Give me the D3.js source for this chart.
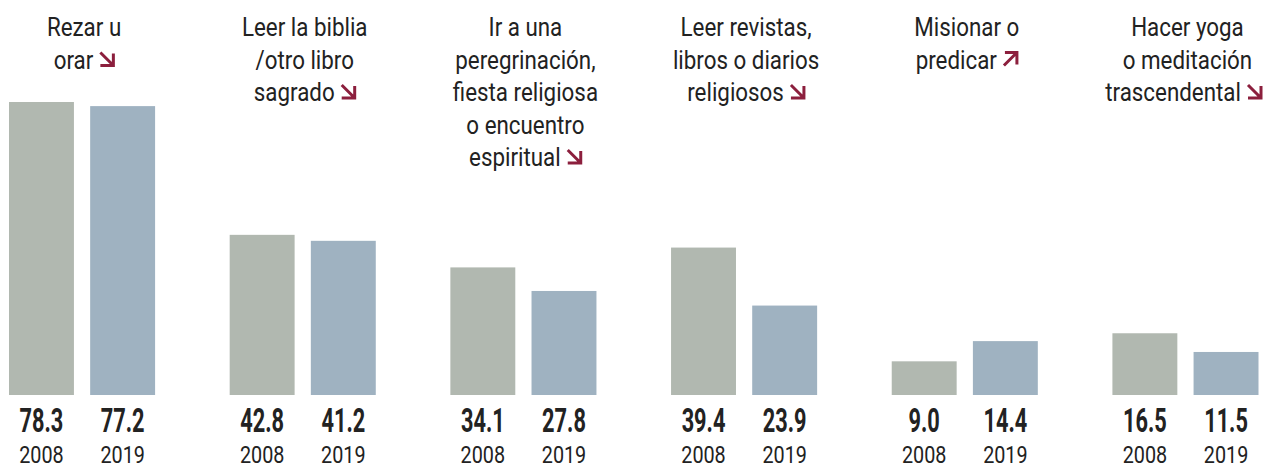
<!DOCTYPE html>
<html>
<head>
<meta charset="utf-8">
<script src="https://cdn.jsdelivr.net/npm/d3@7"></script>
<style>
  body { margin: 0; background: #fff; }
  svg { display: block; }
</style>
</head>
<body>
<svg class="chart" width="1266" height="468"></svg>
<script>
const categories = [
    "Rezar u orar",
    "Leer la biblia /otro libro sagrado",
    "Ir a una peregrinación, fiesta religiosa o encuentro espiritual",
    "Leer revistas, libros o diarios religiosos",
    "Misionar o predicar",
    "Hacer yoga o meditación trascendental"
];
const titleLines = [
    ["Rezar u", "orar"],
    ["Leer la biblia", "/otro libro", "sagrado"],
    ["Ir a una", "peregrinación,", "fiesta religiosa", "o encuentro", "espiritual"],
    ["Leer revistas,", "libros o diarios", "religiosos"],
    ["Misionar o", "predicar"],
    ["Hacer yoga", "o meditación", "trascendental"]
];
const trend = ["down", "down", "down", "down", "up", "down"];
const years = ["2008", "2019"];
const values2008 = [78.3, 42.8, 34.1, 39.4, 9.0, 16.5];
const values2019 = [77.2, 41.2, 27.8, 23.9, 14.4, 11.5];

const colors = { "2008": "#b1b8b0", "2019": "#9fb2c1" };
const arrowColor = "#8c1f3d";
const textColor = "#222222";

const svg = d3.select(".chart");

const data = categories.map((c, i) => ({
    cat: c,
    lines: titleLines[i],
    trend: trend[i],
    bars: [
        { year: "2008", value: values2008[i] },
        { year: "2019", value: values2019[i] }
    ]
}));

const x0 = d3.scaleBand()
    .domain(categories)
    .range([9, 1258.5])
    .paddingInner(0.338)
    .paddingOuter(0);

const x1 = d3.scaleBand()
    .domain(years)
    .range([0, x0.bandwidth()])
    .paddingInner(0.2);

const y = d3.scaleLinear()
    .domain([0, 78.3])
    .range([395, 102]);

const groups = svg.selectAll("g.group")
    .data(data)
    .join("g")
    .attr("class", "group")
    .attr("transform", d => `translate(${x0(d.cat)},0)`);

groups.selectAll("rect")
    .data(d => d.bars)
    .join("rect")
    .attr("x", d => x1(d.year))
    .attr("y", d => y(d.value))
    .attr("width", x1.bandwidth())
    .attr("height", d => y(0) - y(d.value))
    .attr("fill", d => colors[d.year]);

// value labels (condensed bold)
groups.selectAll("text.val")
    .data(d => d.bars)
    .join("text")
    .attr("class", "val")
    .attr("transform", d => `translate(${x1(d.year) + x1.bandwidth() / 2},432) scale(0.64,1)`)
    .attr("text-anchor", "middle")
    .attr("font-family", "Roboto")
    .attr("font-weight", 700)
    .attr("font-size", 34)
    .attr("fill", textColor)
    .text(d => d.value.toFixed(1));

// year labels
groups.selectAll("text.year")
    .data(d => d.bars)
    .join("text")
    .attr("class", "year")
    .attr("transform", d => `translate(${x1(d.year) + x1.bandwidth() / 2},463) scale(0.86,1)`)
    .attr("text-anchor", "middle")
    .attr("font-family", "Roboto")
    .attr("font-size", 23)
    .attr("fill", textColor)
    .text(d => d.year);

// titles
const titleScale = 0.86;
const lineH = 32.5;
const arrowW = 15, arrowGap = 6;

groups.each(function (d) {
    const g = d3.select(this);
    const cx = x0.bandwidth() / 2 + 2;
    d.lines.forEach((line, i) => {
        const last = i === d.lines.length - 1;
        const by = 36 + i * lineH;
        const t = g.append("text")
            .attr("font-family", "Roboto")
            .attr("font-size", 26)
            .attr("fill", textColor)
            .text(line);
        const w = t.node().getComputedTextLength() * titleScale;
        if (!last) {
            t.attr("text-anchor", "middle")
                .attr("transform", `translate(${cx},${by}) scale(${titleScale},1)`);
            return;
        }
        const total = w + arrowGap + arrowW;
        const sx = Math.min(cx - total / 2, 1262 - x0(d.cat) - total);
        t.attr("text-anchor", "start")
            .attr("transform", `translate(${sx},${by}) scale(${titleScale},1)`);
        const ax = sx + w + arrowGap;
        const top = by - 17, bot = by - 2;
        let p;
        if (d.trend === "down") {
            p = `M${ax + 1},${top + 1} L${ax + arrowW - 2},${bot - 2} M${ax + 1},${bot - 1} L${ax + arrowW - 1},${bot - 1} L${ax + arrowW - 1},${top + 2}`;
        } else {
            p = `M${ax + 1},${bot - 1} L${ax + arrowW - 2},${top + 2} M${ax + 2},${top + 1} L${ax + arrowW - 1},${top + 1} L${ax + arrowW - 1},${bot - 2}`;
        }
        g.append("path")
            .attr("d", p)
            .attr("fill", "none")
            .attr("stroke", arrowColor)
            .attr("stroke-width", 3);
    });
});
</script>
</body>
</html>
